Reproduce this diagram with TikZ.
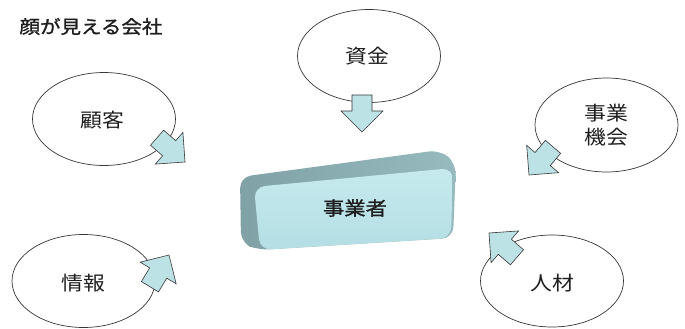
\documentclass[tikz,border=0pt]{standalone}
\usepackage{fontspec}
\newfontfamily\jp[FakeStretch=1.12]{Noto Sans CJK JP}
\newfontfamily\jpm[FakeStretch=1.12,FakeBold=1.2]{Noto Sans CJK JP}
\usetikzlibrary{shapes.geometric,shadings}
\definecolor{arrowfill}{RGB}{188,226,230}
\definecolor{edge}{RGB}{55,55,55}
\definecolor{txt}{RGB}{30,30,30}
\definecolor{facefront}{RGB}{198,234,238}
\definecolor{facefrontb}{RGB}{180,222,228}
\definecolor{sidedark}{RGB}{128,162,166}
\definecolor{sidelight}{RGB}{150,186,190}
\newcommand\blockarr[2]{%
  \begin{scope}[shift={#1}, rotate=#2]
    \filldraw[blockarrow] (0,0) -- (-21,21) -- (-21,10) -- (-37,10) -- (-37,-10) -- (-21,-10) -- (-21,-21) -- cycle;
  \end{scope}}
\begin{document}
\begin{tikzpicture}[x=1pt,y=-1pt,
  bubble/.style={ellipse, draw=edge, line width=0.7pt, fill=white, minimum width=143pt, minimum height=93pt, inner sep=0pt},
  lbl/.style={font=\jp\fontsize{19.5}{24}\selectfont, text=txt, align=center},
  blockarrow/.style={draw=edge, line width=0.6pt, fill=arrowfill, line join=miter}]
\useasboundingbox (0,0) rectangle (685,329);
\fill[white] (0,0) rectangle (685,329);
% title
\node[font=\jpm\fontsize{18.3}{20}\selectfont, text=txt] (title) at (91,26.5) {顔が見える会社};
% bubbles
\node[bubble] (kokyaku) at (104,119) {};
\node[bubble] (shikin) at (369,56) {};
\node[bubble, minimum height=94pt] (kikai) at (606.5,125) {};
\node[bubble] (joho) at (83.5,281) {};
\node[bubble, minimum height=92pt] (jinzai) at (552,281) {};
\node[lbl] (t1) at (102,120) {顧客};
\node[lbl] (t2) at (367,56) {資金};
\node[lbl] (t3) at (606,125) {事業\\機会};
\node[lbl] (t4) at (83,283) {情報};
\node[lbl] (t5) at (552,283) {人材};
% block arrows
\blockarr{(185,162)}{-41}
\blockarr{(362,132)}{-90}
\blockarr{(529,175)}{229.5}
\blockarr{(169,255)}{59}
\blockarr{(489,233)}{139}
% central 3D box
\path[left color=sidedark, right color=sidelight, rounded corners=11]
  (240,177) -- (440,150) -- (456,163) -- (453,238) -- (258,250) -- (241,243) -- cycle;
\path[top color=facefront, bottom color=facefrontb, rounded corners=11]
  (254,187) -- (453,168) -- (451,238) -- (260,250) -- cycle;
\node[lbl, font=\jpm\fontsize{19}{24}\selectfont] (center) at (355,208) {事業者};
\end{tikzpicture}
\end{document}
